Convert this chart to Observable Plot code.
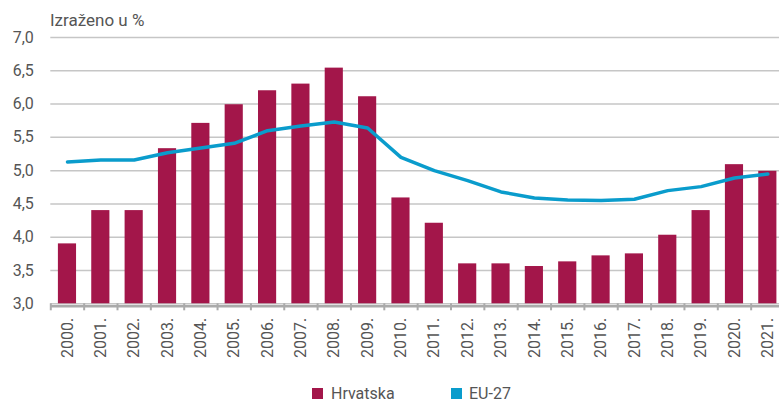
<!DOCTYPE html>
<html>
<head>
<meta charset="utf-8">
<script src="https://cdn.jsdelivr.net/npm/d3@7"></script>
<script src="https://cdn.jsdelivr.net/npm/@observablehq/plot@0.6"></script>
<style>
  html, body { margin: 0; padding: 0; background: #fff; overflow: hidden; }
  body { font-family: Roboto, "Noto Sans", sans-serif; color: #555; width: 779px; height: 401px; }
  #title { height: 16px; line-height: 16px; padding-top: 12px; padding-left: 50px; font-size: 17px; color: #555; white-space: nowrap; }
  #legend { position: relative; height: 31px; font-size: 16px; color: #555; }
  #legend .sw { position: absolute; width: 11px; height: 11px; top: 18px; }
  #legend .lb { position: absolute; top: 13.5px; line-height: 20px; white-space: nowrap; }
  svg { display: block; overflow: visible; }
</style>
</head>
<body>
<div id="title">Izraženo u %</div>
<div id="chart"></div>
<div id="legend"></div>
<script>
const years = [2000, 2001, 2002, 2003, 2004, 2005, 2006, 2007, 2008, 2009, 2010,
               2011, 2012, 2013, 2014, 2015, 2016, 2017, 2018, 2019, 2020, 2021];
const hrvatska = [3.90, 4.40, 4.40, 5.33, 5.71, 5.99, 6.20, 6.30, 6.54, 6.11, 4.59,
                  4.21, 3.60, 3.60, 3.56, 3.63, 3.72, 3.75, 4.03, 4.40, 5.09, 4.99];
const eu27 = [5.13, 5.16, 5.16, 5.27, 5.34, 5.41, 5.60, 5.67, 5.73, 5.64, 5.20,
              5.00, 4.85, 4.68, 4.59, 4.56, 4.55, 4.57, 4.70, 4.76, 4.89, 4.95];
const yTicks = [3.0, 3.5, 4.0, 4.5, 5.0, 5.5, 6.0, 6.5, 7.0];
const seriesNames = ["Hrvatska", "EU-27"];
const seriesColors = ["#a3164a", "#0a9ccc"];

const barData = years.map((y, i) => ({year: y, value: hrvatska[i]}));
const lineData = years.map((y, i) => ({year: y, value: eu27[i]}));
const boundaries = years.map(y => y - 0.5).concat([years[years.length - 1] + 0.5]);

const fmt = d => d.toFixed(1).replace(".", ",");

const plot = Plot.plot({
  width: 779,
  height: 342,
  marginTop: 9,
  marginBottom: 66.7,
  marginLeft: 50.3,
  marginRight: -5,
  style: {fontFamily: "Roboto, sans-serif", fontSize: "16px", color: "#555", background: "transparent", overflow: "visible"},
  x: {type: "linear", domain: [years[0] - 0.5, years[years.length - 1] + 0.5]},
  y: {domain: [yTicks[0], yTicks[yTicks.length - 1]]},
  marks: [
    Plot.gridY(yTicks, {stroke: "#c6c6c6", strokeOpacity: 1, strokeWidth: 1.5}),
    Plot.rectY(barData, {
      x1: d => d.year - 0.5, x2: d => d.year + 0.5,
      y1: yTicks[0], y2: "value",
      insetLeft: 7.6, insetRight: 7.6,
      fill: seriesColors[0]
    }),
    Plot.ruleY([yTicks[0]], {stroke: "#aaa", strokeWidth: 2.5, dy: 2.5}),
    Plot.axisX({ticks: boundaries, tickSize: 7, tickFormat: () => "", stroke: "#aaa", strokeWidth: 2, label: null}),
    Plot.axisX({ticks: years, tickSize: 0, tickPadding: 14, tickRotate: -90,
                tickFormat: d => d + ".", fill: "#555", fontSize: 16, label: null}),
    Plot.axisY({ticks: yTicks, tickSize: 0, tickPadding: 17, tickFormat: fmt,
                fill: "#555", fontSize: 16, label: null}),
    Plot.line(lineData, {x: "year", y: "value", stroke: seriesColors[1], strokeWidth: 3.5,
                         strokeLinejoin: "round", strokeLinecap: "round"})
  ]
});
document.getElementById("chart").appendChild(plot);

const legend = document.getElementById("legend");
const swLeft = [312, 451];
const lbLeft = [331, 469];
seriesNames.forEach((name, i) => {
  const sw = document.createElement("span");
  sw.className = "sw";
  sw.style.left = swLeft[i] + "px";
  sw.style.background = seriesColors[i];
  legend.appendChild(sw);
  const lb = document.createElement("span");
  lb.className = "lb";
  lb.style.left = lbLeft[i] + "px";
  lb.textContent = name;
  legend.appendChild(lb);
});
</script>
</body>
</html>
